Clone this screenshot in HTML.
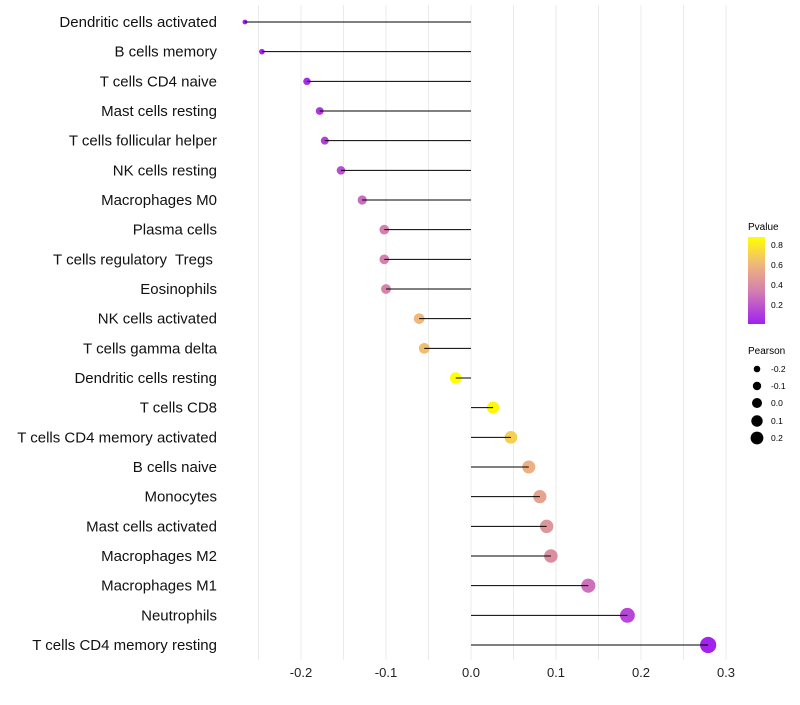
<!DOCTYPE html>
<html><head><meta charset="utf-8"><style>
body{margin:0;background:#fff;font-family:"Liberation Sans",sans-serif;}
</style></head><body>
<svg id="chart" width="800" height="700" xmlns="http://www.w3.org/2000/svg">
<g id="grid"></g>
<g id="marks"></g>
<g id="ylab"></g>
<g id="xlab"></g>
<g>
<defs><linearGradient id="pg" x1="0" y1="1" x2="0" y2="0">
<stop offset="0" stop-color="#a020f0"/><stop offset="0.38" stop-color="#d47fb0"/><stop offset="0.69" stop-color="#f0b87a"/><stop offset="1" stop-color="#ffff00"/></linearGradient></defs>
<text x="748" y="230" font-size="10" fill="#000">Pvalue</text>
<rect x="748" y="237" width="17" height="87" fill="url(#pg)"/>
<text x="771" y="248" font-size="8.5">0.8</text>
<text x="771" y="268" font-size="8.5">0.6</text>
<text x="771" y="288" font-size="8.5">0.4</text>
<text x="771" y="308" font-size="8.5">0.2</text>
</g>
<g>
<text x="748" y="354" font-size="10">Pearson</text>
<circle cx="757" cy="369" r="3.3"/>
<circle cx="757" cy="386" r="4.2"/>
<circle cx="757" cy="403" r="5"/>
<circle cx="757" cy="421" r="5.7"/>
<circle cx="757" cy="438" r="6.4"/>
<text x="771" y="372" font-size="8.5">-0.2</text>
<text x="771" y="389" font-size="8.5">-0.1</text>
<text x="771" y="406" font-size="8.5">0.0</text>
<text x="771" y="424" font-size="8.5">0.1</text>
<text x="771" y="441" font-size="8.5">0.2</text>
</g>
</svg>
<script>
const cells=["Dendritic cells activated","B cells memory","T cells CD4 naive","Mast cells resting","T cells follicular helper","NK cells resting","Macrophages M0","Plasma cells","T cells regulatory  Tregs ","Eosinophils","NK cells activated","T cells gamma delta","Dendritic cells resting","T cells CD8","T cells CD4 memory activated","B cells naive","Monocytes","Mast cells activated","Macrophages M2","Macrophages M1","Neutrophils","T cells CD4 memory resting"];
const pearson=[-0.266,-0.246,-0.193,-0.178,-0.172,-0.153,-0.128,-0.102,-0.102,-0.100,-0.061,-0.055,-0.018,0.026,0.047,0.068,0.081,0.089,0.094,0.138,0.184,0.279];
const pvalue=[0.02,0.04,0.07,0.1,0.13,0.18,0.28,0.36,0.36,0.37,0.62,0.64,0.87,0.84,0.7,0.58,0.52,0.46,0.42,0.3,0.16,0.03];
const xTicks=[-0.2,-0.1,0.0,0.1,0.2,0.3];
const NS="http://www.w3.org/2000/svg";
const X=v=>471+v*850;
const Y=i=>22+i*(623/21);
function col(p){
 const s=[[0.02,[160,32,240]],[0.35,[212,127,176]],[0.62,[240,184,122]],[0.87,[255,255,0]]];
 if(p<=s[0][0])return `rgb(${s[0][1]})`;
 for(let k=1;k<s.length;k++){if(p<=s[k][0]){const t=(p-s[k-1][0])/(s[k][0]-s[k-1][0]);const c=s[k-1][1].map((a,j)=>Math.round(a+(s[k][1][j]-a)*t));return `rgb(${c})`;}}
 return `rgb(${s[3][1]})`;
}
const R=v=>Math.sqrt(Math.max(4,35+110*v));
function mk(t,a,g){const e=document.createElementNS(NS,t);for(const k in a)e.setAttribute(k,a[k]);g.appendChild(e);return e;}
const grid=document.getElementById('grid'),marks=document.getElementById('marks'),yl=document.getElementById('ylab'),xl=document.getElementById('xlab');
for(let v=-0.25;v<=0.301;v+=0.05){
 const l=mk('line',{x1:X(v),x2:X(v),y1:5,y2:660,stroke:'#ebebeb','stroke-width':1},grid);
 
 
}
xTicks.forEach(v=>{
 const t=mk('text',{x:X(v),y:677,'text-anchor':'middle','font-size':13,fill:'#222'},xl);
 t.textContent=v.toFixed(1);
 
 
});
cells.forEach((c,i)=>{
 const y=Y(i);
 const t=mk('text',{x:217,y:y+5,'text-anchor':'end','font-size':15,fill:'#111',style:'white-space:pre'},yl);
 t.textContent=c;
 
 
 const p=mk('circle',{cx:X(pearson[i]),cy:y,r:R(pearson[i]),fill:col(pvalue[i])},marks);
 
 
 const l=mk('line',{x1:X(pearson[i]),x2:X(0),y1:y,y2:y,stroke:'#000','stroke-width':1},marks);
 
 
});
</script>
</body></html>
